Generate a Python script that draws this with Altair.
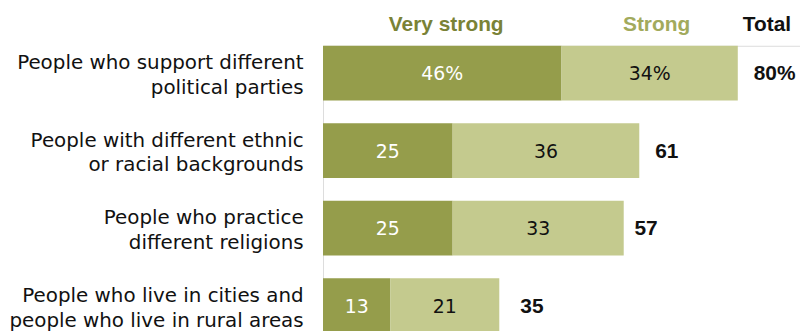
import altair as alt
import pandas as pd

categories = [
    "People who support different|political parties",
    "People with different ethnic|or racial backgrounds",
    "People who practice|different religions",
    "People who live in cities and|people who live in rural areas",
]
very_strong = [46, 25, 25, 13]
strong = [34, 36, 33, 21]
totals = [80, 61, 57, 35]
very_strong_labels = ["46%", "25", "25", "13"]
strong_labels = ["34%", "36", "33", "21"]
total_labels = ["80%", "61", "57", "35"]
series = ["Very strong", "Strong"]
headers = ["Very strong", "Strong", "Total"]

DARK = "#959d4b"
LIGHT = "#c4ca8e"
FONT = "DejaVu Sans"
BOLD = "Liberation Sans"

rows = []
for i, c in enumerate(categories):
    rows.append(dict(cat=c, series="Very strong", start=0, end=very_strong[i],
                     label=very_strong_labels[i], order=0))
    rows.append(dict(cat=c, series="Strong", start=very_strong[i], end=very_strong[i] + strong[i],
                     label=strong_labels[i], order=1))
seg = pd.DataFrame(rows)
seg["mid"] = (seg["start"] + seg["end"]) / 2

tot = pd.DataFrame(dict(cat=categories, total=totals, label=total_labels))

hdr_x = [very_strong[0] / 2, very_strong[0] + strong[0] / 2, totals[0]]
hdr_colors = ["#7a8236", "#a2aa5c", "#111111"]
hdr_dx = [4, 7, 5]
hdr_align = ["center", "center", "left"]

axis_spec = alt.Axis(title=None, domain=False, ticks=False, grid=False,
                     domainOpacity=0, tickOpacity=0, gridOpacity=0,
                     labelExpr="split(datum.label, '|')",
                     labelFont=FONT, labelFontSize=20, labelColor="#111111",
                     labelLineHeight=25, labelPadding=20, labelLimit=400,
                     labelAlign="right", labelBaseline="middle", labelOffset=-10)
ysc = alt.Y("cat:N", sort=categories,
            scale=alt.Scale(paddingInner=0.295, paddingOuter=0),
            axis=axis_spec)
yplain = alt.Y("cat:N", sort=categories, axis=axis_spec)
xsc = alt.Scale(domain=[0, 92], nice=False, zero=True)

bars = alt.Chart(seg).mark_bar().encode(
    x=alt.X("start:Q", scale=xsc, axis=None),
    x2="end:Q",
    y=ysc,
    color=alt.Color("series:N", scale=alt.Scale(domain=series, range=[DARK, LIGHT]), legend=None),
)

seg_text = alt.Chart(seg).mark_text(font=FONT, fontSize=19, baseline="middle", dy=1).encode(
    x=alt.X("mid:Q", scale=xsc, axis=None),
    y=yplain,
    text="label:N",
    color=alt.Color("series:N", scale=alt.Scale(domain=series, range=["white", "#111111"]), legend=None),
)

tot_text = alt.Chart(tot).mark_text(font=BOLD, fontSize=21, fontWeight="bold", align="left",
                                    baseline="middle", dx=16, dy=1, color="#111111").encode(
    x=alt.X("total:Q", scale=xsc, axis=None),
    y=yplain,
    text="label:N",
)

hdr_layers = []
for name, xv, col, dx, al in zip(headers, hdr_x, hdr_colors, hdr_dx, hdr_align):
    d = pd.DataFrame(dict(name=[name], x=[xv]))
    hdr_layers.append(
        alt.Chart(d).mark_text(font=BOLD, fontSize=21, fontWeight="bold", align=al,
                               baseline="alphabetic", dx=dx, color=col).encode(
            x=alt.X("x:Q", scale=xsc, axis=None),
            y=alt.value(-15),
            text="name:N",
        )
    )

chart = alt.layer(bars, seg_text, tot_text, *hdr_layers).resolve_scale(color="independent").properties(
    width=480, height=289,
    autosize=alt.AutoSizeParams(type="none"),
    padding={"left": 317, "top": 37, "right": 0, "bottom": 0},
).configure_view(strokeWidth=0, strokeOpacity=0, stroke="transparent").configure_axis(
    domain=False, grid=False, ticks=False, domainOpacity=0, tickOpacity=0
).configure_axisY(domain=False, ticks=False).configure(background="white")

chart.save("out.html", embed_options={"renderer": "svg", "actions": False})
